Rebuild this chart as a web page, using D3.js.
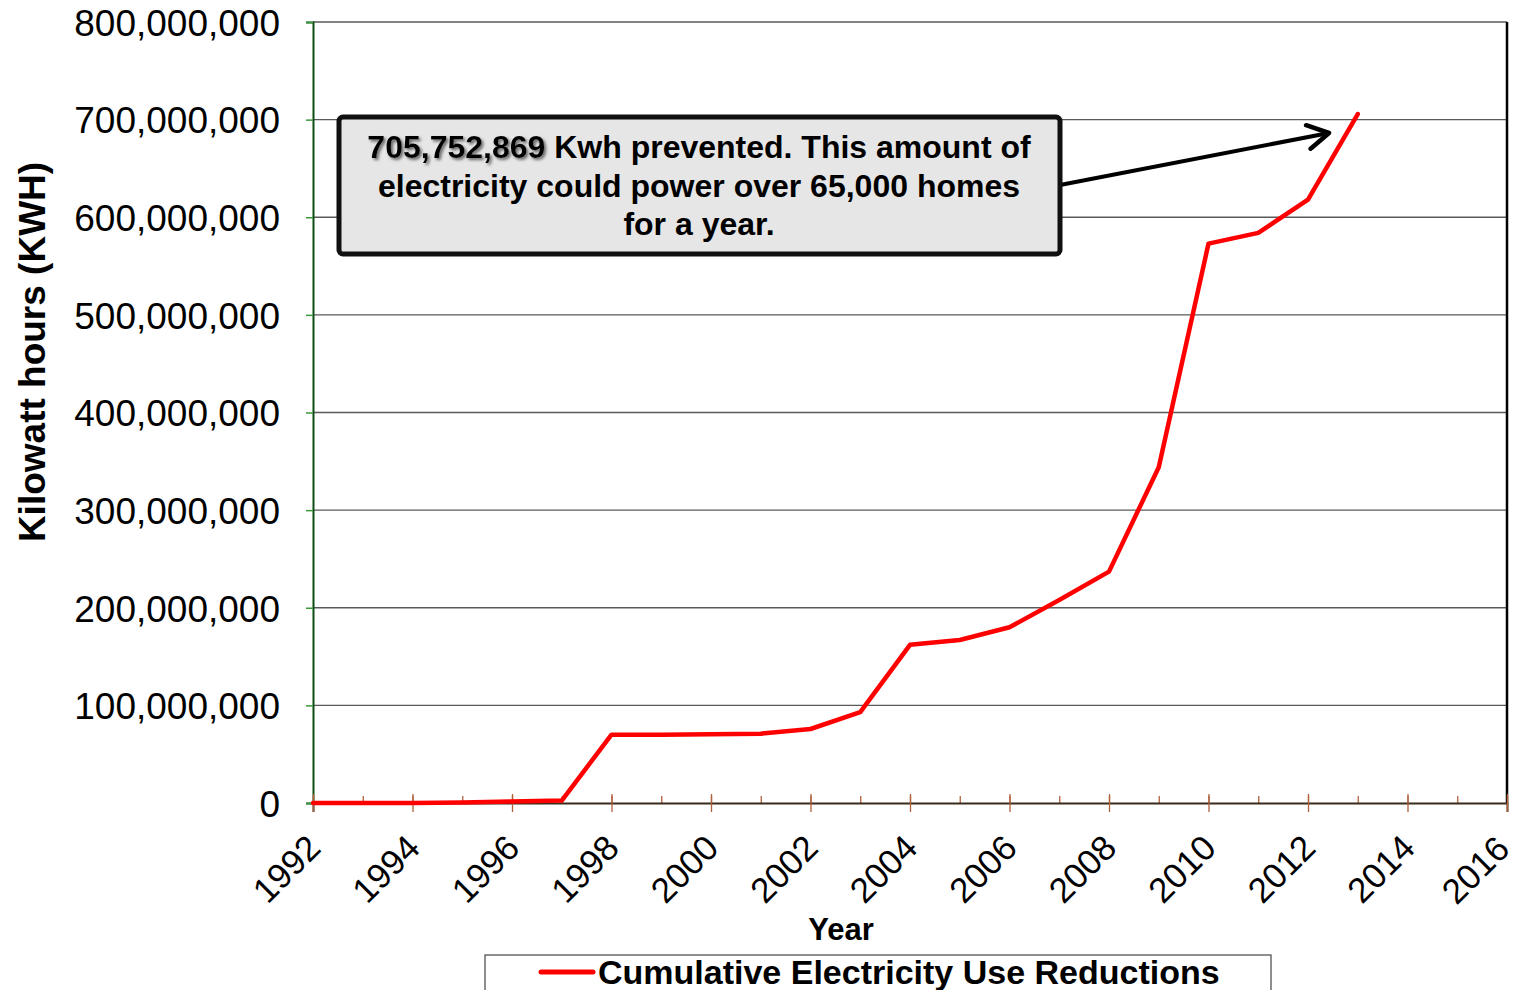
<!DOCTYPE html>
<html>
<head>
<meta charset="utf-8">
<script src="https://cdn.jsdelivr.net/npm/d3@7/dist/d3.min.js"></script>
<style>
  body { margin: 0; background: #fff; }
  svg { display: block; font-family: "Liberation Sans", Arial, sans-serif; }
</style>
</head>
<body>
<svg id="chart" width="1515" height="990"></svg>
<script>
// cumulative kWh reductions
var years = [1992, 1993, 1994, 1995, 1996, 1997, 1998, 1999, 2000, 2001, 2002,
             2003, 2004, 2005, 2006, 2007, 2008, 2009, 2010, 2011, 2012, 2013];
var kwh = [0, 0, 0, 500000, 1500000, 2500000, 70000000, 70000000, 70500000, 71000000, 75800000,
           93000000, 162000000, 167000000, 180000000, 208000000, 237000000, 344000000,
           573000000, 584000000, 618000000, 705752869];
var yTicks = [0, 100000000, 200000000, 300000000, 400000000, 500000000, 600000000, 700000000, 800000000];
var xTicks = [1992, 1994, 1996, 1998, 2000, 2002, 2004, 2006, 2008, 2010, 2012, 2014, 2016];

var svg = d3.select('#chart');
var margin = {top: 22, right: 8, bottom: 187, left: 313},
  width = 1515 - margin.left - margin.right,
  height = 990 - margin.top - margin.bottom;

var x = d3.scaleLinear().domain([1992, 2016]).range([0, width]);
var y = d3.scaleLinear().domain([0, 800000000]).range([height, 0]);

var g = svg.append('g')
  .attr('transform', 'translate(' + margin.left + ',' + margin.top + ')');

// gridlines
g.selectAll('.grid')
  .data(yTicks.slice(1))
  .enter().append('line')
  .attr('x1', 0).attr('x2', width)
  .attr('y1', function(d) { return y(d); })
  .attr('y2', function(d) { return y(d); })
  .attr('stroke', '#5a5a5a')
  .attr('stroke-width', 1.3);

// right border
g.append('line')
  .attr('x1', width).attr('x2', width).attr('y1', 0).attr('y2', height)
  .attr('stroke', '#000').attr('stroke-width', 2.5);

// y axis
var yAxis = g.append('g')
  .call(d3.axisLeft(y).tickValues(yTicks).tickSize(7).tickPadding(26)
    .tickFormat(d3.format(',')));
yAxis.select('.domain').attr('stroke', '#0b4d12').attr('stroke-width', 2);
yAxis.selectAll('.tick line').attr('stroke', '#3a9a3a').attr('stroke-width', 1.5);
yAxis.selectAll('text').style('font-size', '37px').attr('fill', '#000').attr('dy', '0.36em');

// x axis, minor ticks every year inside, major every two years
g.append('g')
  .attr('transform', 'translate(0,' + height + ')')
  .call(d3.axisTop(x).ticks(24).tickSize(7).tickFormat(''))
  .call(function(s) {
    s.select('.domain').remove();
    s.selectAll('.tick line').attr('stroke', '#b0603a').attr('stroke-width', 1.3);
  });

var xAxis = g.append('g')
  .attr('transform', 'translate(0,' + height + ')')
  .call(d3.axisBottom(x).tickValues(xTicks).tickSize(9).tickFormat(d3.format('d')));
xAxis.select('.domain').attr('stroke', '#3a2a1a').attr('stroke-width', 2);
xAxis.selectAll('.tick line').attr('stroke', '#b0603a').attr('stroke-width', 1.3).attr('y1', -9);
xAxis.selectAll('text')
  .style('font-size', '35px')
  .attr('fill', '#000')
  .attr('text-anchor', 'end')
  .attr('dy', null)
  .attr('y', 0)
  .attr('transform', function(d) {
    // last label is nudged left so it stays inside the page
    return d === 2016 ? 'translate(4,48) rotate(-45)' : 'translate(9,47) rotate(-45)';
  });

// line
var line = d3.line()
  .x(function(d, i) { return x(years[i]); })
  .y(function(d) { return y(d); });

g.append('path')
  .datum(kwh)
  .attr('fill', 'none')
  .attr('stroke', '#ff0000')
  .attr('stroke-width', 4.5)
  .attr('stroke-linejoin', 'round')
  .attr('stroke-linecap', 'round')
  .attr('d', line);

// axis titles
svg.append('text')
  .attr('transform', 'translate(45,352) rotate(-90)')
  .attr('text-anchor', 'middle')
  .style('font-size', '37px')
  .style('font-weight', 'bold')
  .text('Kilowatt hours (KWH)');

svg.append('text')
  .attr('x', 841).attr('y', 940)
  .attr('text-anchor', 'middle')
  .style('font-size', '31px')
  .style('font-weight', 'bold')
  .text('Year');

// annotation arrow
var defs = svg.append('defs');
defs.append('marker')
  .attr('id', 'arrow')
  .attr('viewBox', '0 0 28 28')
  .attr('refX', 25).attr('refY', 14)
  .attr('markerWidth', 28).attr('markerHeight', 28)
  .attr('markerUnits', 'userSpaceOnUse')
  .attr('orient', 'auto')
  .append('path')
  .attr('d', 'M4,2 L25,14 L4,26')
  .attr('fill', 'none')
  .attr('stroke', '#000')
  .attr('stroke-width', 4.5)
  .attr('stroke-linecap', 'round')
  .attr('stroke-linejoin', 'round');

svg.append('line')
  .attr('x1', 1060).attr('y1', 185)
  .attr('x2', 1329).attr('y2', 133)
  .attr('stroke', '#000')
  .attr('stroke-width', 4)
  .attr('marker-end', 'url(#arrow)');

// annotation box
svg.append('rect')
  .attr('x', 339).attr('y', 117)
  .attr('width', 721).attr('height', 137)
  .attr('rx', 4)
  .attr('fill', '#e6e6e6')
  .attr('stroke', '#111')
  .attr('stroke-width', 5);

defs.append('filter')
  .attr('id', 'shadow')
  .append('feDropShadow')
  .attr('dx', 2).attr('dy', 2).attr('stdDeviation', 1.5)
  .attr('flood-color', '#666');

var note = svg.append('text')
  .attr('text-anchor', 'middle')
  .style('font-size', '32px')
  .style('font-weight', 'bold');
var l1 = note.append('tspan').attr('x', 699).attr('y', 158);
l1.append('tspan').attr('filter', 'url(#shadow)').text('705,752,869');
l1.append('tspan').text(' Kwh prevented. This amount of');
note.append('tspan').attr('x', 699).attr('y', 197).text('electricity could power over 65,000 homes');
note.append('tspan').attr('x', 699).attr('y', 235).text('for a year.');

// legend
svg.append('rect')
  .attr('x', 485).attr('y', 955)
  .attr('width', 786).attr('height', 45)
  .attr('fill', '#fff')
  .attr('stroke', '#444')
  .attr('stroke-width', 1.2);
svg.append('line')
  .attr('x1', 541).attr('x2', 593).attr('y1', 972).attr('y2', 972)
  .attr('stroke', '#ff0000').attr('stroke-width', 5).attr('stroke-linecap', 'round');
svg.append('text')
  .attr('x', 598).attr('y', 984)
  .style('font-size', '34px')
  .style('font-weight', 'bold')
  .text('Cumulative Electricity Use Reductions');
</script>
</body>
</html>
